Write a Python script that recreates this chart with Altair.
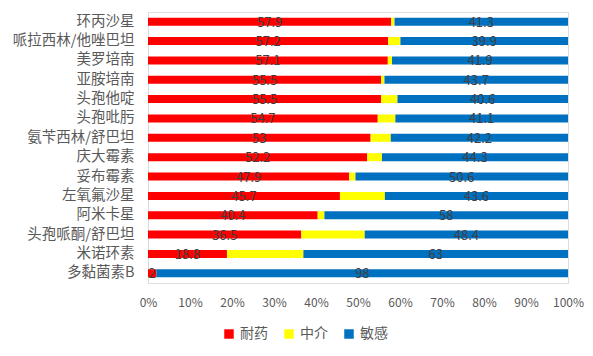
import altair as alt
import pandas as pd

drugs = ["环丙沙星", "哌拉西林/他唑巴坦", "美罗培南", "亚胺培南", "头孢他啶", "头孢吡肟",
         "氨苄西林/舒巴坦", "庆大霉素", "妥布霉素", "左氧氟沙星", "阿米卡星",
         "头孢哌酮/舒巴坦", "米诺环素", "多黏菌素B"]
resistant = [57.9, 57.2, 57.1, 55.5, 55.5, 54.7, 53, 52.2, 47.9, 45.7, 40.4, 36.5, 18.8, 2]
intermediate = [0.8, 2.9, 1.0, 0.8, 3.9, 4.2, 4.8, 3.5, 1.5, 10.7, 1.6, 15.1, 18.2, 0]
sensitive = [41.3, 39.9, 41.9, 43.7, 40.6, 41.1, 42.2, 44.3, 50.6, 43.6, 58, 48.4, 63, 98]
series = ["耐药", "中介", "敏感"]
colors = ["#FF0000", "#FFFF00", "#0070C0"]

rows = []
for i, d in enumerate(drugs):
    for k, (s, vals) in enumerate(zip(series, [resistant, intermediate, sensitive])):
        rows.append({"drug": d, "type": s, "value": vals[i], "ord": k})
df = pd.DataFrame(rows)

FONT = "Noto Sans CJK SC"

base = alt.Chart(df).transform_stack(
    stack="value", groupby=["drug"], sort=[alt.SortField("ord", order="ascending")], as_=["v0", "v1"]
).transform_calculate(mid="(datum.v0 + datum.v1) / 2")

y = alt.Y("drug:N", sort=drugs, title=None,
          scale=alt.Scale(paddingInner=0.5, paddingOuter=0.25),
          axis=alt.Axis(labelFont=FONT, labelFontSize=14.5, labelColor="#595959",
                        labelPadding=14, ticks=False, domainColor="#D9D9D9", grid=False))

bars = base.mark_bar(size=8).encode(
    x=alt.X("v0:Q", scale=alt.Scale(domain=[0, 100], nice=False), title=None,
            axis=alt.Axis(values=list(range(0, 101, 10)), labelExpr="datum.value + '%'",
                          labelFont=FONT, labelFontSize=12, labelColor="#595959",
                          labelOverlap=False, labelFlush=False,
                          domain=False, ticks=False, grid=False, labelPadding=14)),
    x2="v1:Q",
    y=y,
    color=alt.Color("type:N", scale=alt.Scale(domain=series, range=colors), sort=series,
                    legend=alt.Legend(title=None, orient="none", direction="horizontal",
                                      legendX=74, legendY=315, symbolType="square",
                                      symbolSize=90, symbolStrokeWidth=0,
                                      labelFont=FONT, labelFontSize=14, labelColor="#595959",
                                      columnPadding=14, labelOffset=4)),
    order=alt.Order("ord:Q"),
)

texts = base.transform_filter("datum.type != '中介'").mark_text(
    font=FONT, fontSize=13, color="#404040", baseline="middle", dy=1
).encode(
    x="mid:Q",
    y=alt.Y("drug:N", sort=drugs),
    text=alt.Text("value:Q"),
)

chart = (bars + texts).properties(
    width=420, height=271,
    autosize=alt.AutoSizeParams(type="none"),
    padding={"left": 148, "top": 12, "right": 25, "bottom": 73},
).configure_view(stroke=None).configure(background="white")

chart.save("out.html", embed_options={"renderer": "svg", "actions": False})
